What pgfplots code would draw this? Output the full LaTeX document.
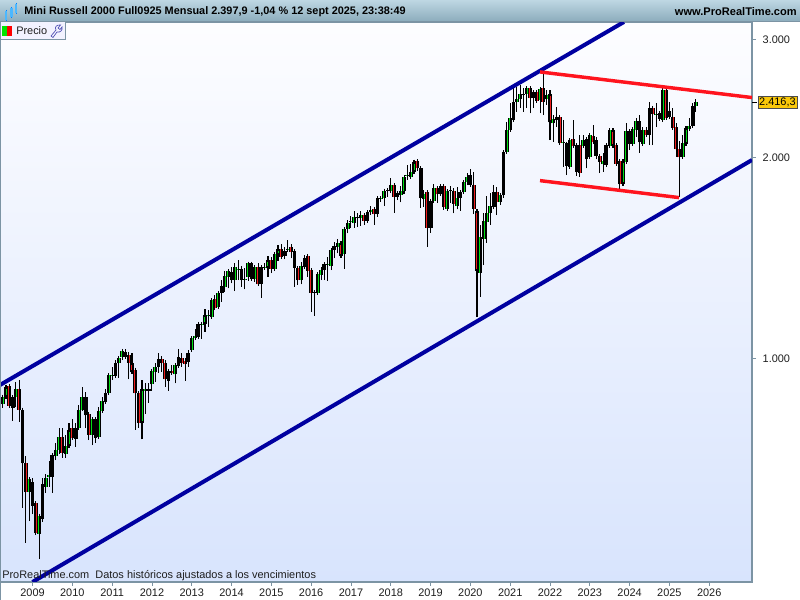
\documentclass[border=0pt]{standalone}
\usepackage{fontspec}
\setmainfont{Liberation Sans}
\usepackage{pgfplots}
\usepackage{pgfplotstable}
\pgfplotsset{compat=1.18}
\definecolor{cblue}{RGB}{0,0,160}
\definecolor{cred}{RGB}{255,20,30}
\definecolor{cgreen}{RGB}{0,224,20}
\definecolor{bred}{RGB}{240,30,30}
\definecolor{frame}{RGB}{124,148,164}
\definecolor{bgtop}{RGB}{253,253,255}
\definecolor{bgbot}{RGB}{216,228,253}
\definecolor{headtop}{RGB}{190,215,227}
\definecolor{headbot}{RGB}{140,172,188}
\definecolor{gold}{RGB}{250,200,10}
\definecolor{txt}{RGB}{30,30,30}
% columns: month index (0 = Jan 2009), open, high, low, close
\pgfplotstableread{
m o h l c
-9 854 882 844 877
-8 877 913 875 908
-6 844 882 807 875
-5 875 924 847 899
-1 631 666 571 660
2 547 583 501 582
3 576 662 570 648
4 643 672 630 662
5 664 702 643 670
6 666 721 630 717
7 714 748 705 731
8 731 786 721 763
10 719 768 710 739
11 740 800 738 783
13 758 800 738 788
14 788 852 788 837
15 839 906 837 875
18 769 814 742 811
20 763 847 763 835
21 835 877 834 863
22 862 902 862 887
23 887 951 882 945
24 943 972 929 946
25 943 995 941 984
26 984 1006 935 1001
27 1004 1030 995 1027
33 800 929 757 899
34 895 918 826 899
35 895 918 859 902
36 915 963 895 957
37 954 984 924 972
38 972 1018 951 998
41 927 963 895 959
43 947 984 918 977
44 974 1032 970 1004
47 989 1030 972 1018
48 1030 1078 1027 1072
49 1074 1106 1072 1082
50 1078 1130 1069 1127
51 1122 1130 1071 1127
52 1126 1185 1096 1161
53 1158 1182 1116 1162
54 1153 1227 1151 1224
56 1195 1263 1192 1255
57 1255 1311 1217 1284
58 1281 1354 1259 1329
59 1326 1357 1274 1352
61 1311 1390 1262 1372
62 1358 1404 1311 1362
64 1312 1365 1269 1316
65 1326 1390 1308 1388
67 1314 1372 1303 1370
69 1292 1372 1234 1370
70 1368 1388 1366 1372
71 1365 1424 1326 1403
73 1363 1446 1361 1432
74 1430 1480 1401 1458
76 1424 1471 1408 1450
77 1455 1505 1446 1460
81 1311 1396 1292 1376
82 1373 1429 1371 1412
85 1253 1258 1160 1257
86 1255 1341 1253 1338
87 1334 1373 1311 1357
88 1357 1391 1311 1385
89 1383 1417 1308 1387
90 1376 1458 1357 1454
91 1454 1496 1412 1475
92 1471 1508 1437 1491
94 1432 1566 1362 1563
95 1562 1612 1540 1597
96 1600 1635 1570 1606
97 1597 1665 1569 1627
98 1624 1654 1573 1630
99 1622 1663 1580 1640
101 1608 1669 1606 1656
102 1656 1692 1640 1669
104 1645 1740 1631 1737
105 1734 1751 1717 1740
106 1741 1788 1692 1784
107 1781 1792 1747 1787
108 1780 1862 1776 1819
110 1747 1775 1727 1768
111 1757 1813 1713 1780
112 1780 1870 1762 1868
113 1878 1950 1851 1884
114 1872 1957 1868 1901
115 1903 1976 1895 1972
118 1733 1788 1685 1762
120 1570 1723 1544 1721
121 1723 1825 1711 1799
123 1762 1819 1757 1813
125 1677 1788 1673 1780
126 1785 1813 1710 1791
128 1694 1805 1673 1737
129 1737 1788 1665 1774
130 1774 1851 1772 1837
131 1837 1893 1819 1872
135 1345 1585 1238 1519
136 1509 1650 1380 1605
137 1601 1751 1490 1650
138 1650 1771 1585 1692
139 1688 1819 1673 1774
141 1717 1770 1698 1756
142 1756 2040 1741 2036
143 2040 2262 2033 2199
144 2199 2415 2194 2290
145 2276 2553 2272 2418
146 2423 2553 2342 2444
147 2444 2568 2373 2489
148 2485 2539 2342 2493
149 2489 2548 2370 2539
151 2453 2509 2370 2504
153 2438 2539 2329 2530
155 2444 2524 2397 2480
157 2250 2315 2111 2282
158 2276 2378 2224 2301
160 2101 2276 1938 2107
162 1938 2139 1927 2124
166 2081 2161 2076 2124
168 2001 2161 1994 2159
172 1954 2028 1905 1974
173 1950 2088 1943 2086
174 2081 2199 2078 2197
178 1825 1978 1819 1976
179 1972 2250 1970 2191
181 2096 2212 2094 2204
182 2197 2290 2149 2268
184 2096 2224 2094 2197
186 2161 2418 2088 2370
188 2320 2410 2220 2327
190 2276 2539 2270 2524
192 2301 2423 2292 2345
196 2001 2161 1994 2099
197 2094 2220 2089 2212
198 2204 2290 2199 2232
199 2232 2410 2230 2389
200 2389 2447 2342 2418
}\upcandles
\pgfplotstableread{
m o h l c
-7 910 913 847 850
-4 902 929 804 839
-3 839 841 598 697
-2 697 714 530 631
0 653 662 585 602
1 607 609 544 549
9 763 786 711 723
12 786 811 759 760
16 877 892 786 822
17 825 832 755 769
19 811 813 748 761
28 1024 1032 1004 1006
29 1011 1024 931 986
30 984 1020 954 956
31 963 965 783 887
32 887 892 788 802
39 998 1009 956 984
40 984 995 908 931
42 959 977 946 951
45 1001 1018 972 984
46 990 1001 927 981
55 1227 1245 1185 1189
60 1349 1373 1296 1311
63 1360 1376 1281 1311
66 1388 1390 1311 1314
68 1370 1388 1290 1292
72 1407 1420 1343 1363
75 1458 1485 1417 1420
78 1468 1485 1412 1446
79 1449 1454 1281 1368
80 1365 1368 1289 1311
83 1424 1429 1326 1354
84 1357 1360 1175 1255
93 1491 1496 1417 1425
100 1640 1646 1585 1608
103 1673 1675 1585 1645
109 1819 1830 1654 1747
116 1976 1978 1911 1927
117 1927 1930 1682 1737
119 1774 1784 1471 1570
122 1799 1805 1711 1762
124 1813 1819 1669 1685
127 1784 1799 1650 1704
132 1881 1921 1815 1819
133 1819 1905 1646 1675
134 1663 1669 1154 1354
140 1774 1809 1640 1717
150 2539 2541 2329 2453
152 2504 2524 2421 2432
154 2539 2689 2315 2423
156 2489 2524 2124 2258
159 2301 2307 2094 2099
161 2099 2102 1883 1943
163 2129 2276 2076 2081
164 2086 2088 1877 1901
165 2086 2161 1872 1898
167 2131 2139 1927 1988
169 2155 2237 2104 2107
170 2122 2149 1988 2011
171 2009 2016 1895 1972
175 2197 2199 2078 2081
176 2086 2088 1950 1958
177 1976 1983 1794 1825
180 2191 2199 2052 2096
183 2268 2315 2033 2107
185 2197 2224 2161 2164
187 2373 2384 2088 2321
189 2329 2332 2276 2286
191 2524 2539 2290 2294
193 2299 2370 2199 2217
194 2220 2252 2005 2057
195 2057 2119 1747 2001
}\downcandles
\pgfplotsset{
  wick/.style={forget plot, draw=none, mark=none, error bars/.cd, y dir=plus, y explicit,
    error mark=none, error bar style={draw=black, line width=0.8pt}},
  bodyo/.style={forget plot, draw=none, mark=none, error bars/.cd, y dir=plus, y explicit,
    error mark=none, error bar style={draw=black, line width=2.9pt}},
  bodyi/.style={forget plot, draw=none, mark=none, error bars/.cd, y dir=plus, y explicit,
    error mark=none, error bar style={draw=#1, line width=1.3pt}},
  bodyc/.style={forget plot, draw=none, mark=none, error bars/.cd, y dir=both, y explicit,
    error mark=-, error bar style={draw=none, line width=0pt},
    error mark options={draw=black, mark size=1.45pt, line width=0.8pt}},
}
\begin{document}
\begin{tikzpicture}
\useasboundingbox (0,0) rectangle (600pt,450pt);
\begin{axis}[
  at={(0pt,13.5pt)}, anchor=south west, scale only axis,
  width=564pt, height=420pt,
  xmin=-9.8, xmax=216.9, ymode=log, ymin=463, ymax=3191,
  axis line style={frame, line width=0.8pt},
  axis background/.style={top color=bgtop, bottom color=bgbot},
  xtick={0,12,24,36,48,60,72,84,96,108,120,132,144,156,168,180,192,204},
  xticklabels={2009,2010,2011,2012,2013,2014,2015,2016,2017,2018,2019,2020,2021,2022,2023,2024,2025,2026},
  ytick={1000,2000,3000}, yticklabels={1.000,2.000,3.000},
  yminorticks=false,
  xtick pos=bottom, ytick pos=right, yticklabel pos=right,
  tick align=outside, major tick length=3pt,
  tick style={frame, line width=0.6pt},
  ticklabel style={font=\fontsize{8.2pt}{10pt}\selectfont, text=txt},
  xticklabel style={yshift=1pt},
  yticklabel style={xshift=1.5pt},
]
\addplot[wick] table[x=m, y=l, y error plus expr=\thisrow{h}-\thisrow{l}] {\upcandles};
\addplot[wick] table[x=m, y=l, y error plus expr=\thisrow{h}-\thisrow{l}] {\downcandles};
\addplot[bodyo] table[x=m, y=o, y error plus expr=\thisrow{c}-\thisrow{o}] {\upcandles};
\addplot[bodyo] table[x=m, y=c, y error plus expr=\thisrow{o}-\thisrow{c}] {\downcandles};
\addplot[bodyi=cgreen] table[x=m, y=o, y error plus expr=\thisrow{c}-\thisrow{o}] {\upcandles};
\addplot[bodyi=bred] table[x=m, y=c, y error plus expr=\thisrow{o}-\thisrow{c}] {\downcandles};
\addplot[bodyc] table[x=m, y=o, y error plus expr=\thisrow{c}-\thisrow{o}, y error minus expr=0] {\upcandles};
\addplot[bodyc] table[x=m, y=c, y error plus expr=\thisrow{o}-\thisrow{c}, y error minus expr=0] {\downcandles};
% channel and wedge lines
\addplot[cblue, line width=3pt, forget plot] coordinates {(-9.8,913) (178.3,3191)};
\addplot[cblue, line width=3pt, forget plot] coordinates {(0,463) (216.9,1983)};
\addplot[cred, line width=2.6pt, forget plot] coordinates {(153,2686) (216.9,2459)};
\addplot[cred, line width=2.6pt, forget plot] coordinates {(153,1847) (194.9,1742)};
\end{axis}
\begin{scope}[shift={(0,450pt)}, x=0.75pt, y=-0.75pt]
  % header
  \fill[top color=headtop, bottom color=headbot] (0,0) rectangle (800,21.5);
  \draw[frame, line width=0.6pt] (0,21.5) -- (800,21.5);
  \foreach \x/\a/\b in {6/11/20, 11.5/8/17, 16/4/13} {
    \draw[blue!50!cyan, line width=0.5pt] (\x,\a-1) -- (\x,\b+1);
    \fill[blue!40!cyan!70] (\x-1.2,\a) rectangle (\x+1.2,\b);
  }
  \node[anchor=west, inner sep=0pt, font=\bfseries\fontsize{8.17pt}{10pt}\selectfont, text=black] at (24,11.5)
    {Mini Russell 2000 Full0925 Mensual 2.397,9 -1,04 \% 12 sept 2025, 23:38:49};
  \node[anchor=east, inner sep=0pt, font=\bfseries\fontsize{8.3pt}{10pt}\selectfont, text=black] at (797,12)
    {www.ProRealTime.com};
  % legend box
  \fill[white!95!blue] (0,22) rectangle (65,39.5);
  \draw[frame, line width=0.7pt] (0,39.5) -- (65,39.5) -- (65,22);
  \fill[green!90!black] (2,26) rectangle (7,36);
  \fill[red] (7,26) rectangle (12,36);
  \node[anchor=west, inner sep=0pt, font=\fontsize{8.2pt}{10pt}\selectfont, text=txt] at (16,30.5) {Precio};
  \draw[blue!40!gray, line width=0.5pt] (51,36) -- (56,30) .. controls (54,27) and (57,24.5) .. (60.5,25)
     -- (58,28) -- (60,29.5) -- (62,27) .. controls (63,30) and (60,33) .. (57,32) -- (53,37.5) -- cycle;
  % left edge
  \draw[frame, line width=0.8pt] (0.5,21) -- (0.5,600);
  % price tag
  \draw[black, line width=0.7pt] (752,102.5) -- (757,102.5);
  \node[anchor=west, fill=gold, draw=black!70, line width=0.5pt, inner xsep=1pt, inner ysep=1.3pt, font=\fontsize{8.2pt}{10pt}\selectfont, text=black]
     at (757.5,102.5) {2.416,3};
  % source note
  \node[anchor=west, inner sep=0pt, font=\fontsize{8.2pt}{10pt}\selectfont, text=txt] at (2,576)
    {ProRealTime.com\ \ Datos históricos ajustados a los vencimientos};
\end{scope}
\end{tikzpicture}
\end{document}
